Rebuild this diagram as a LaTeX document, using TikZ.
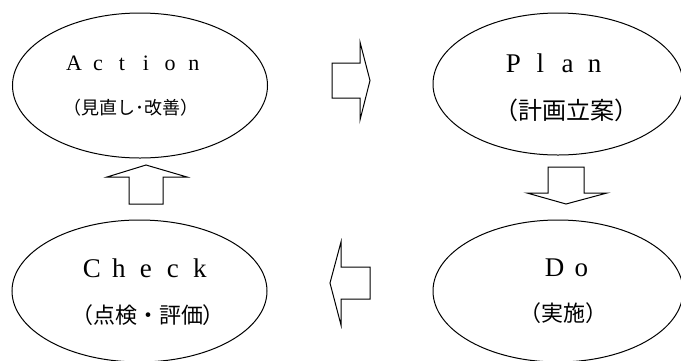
\documentclass[tikz,border=0pt]{standalone}
\usepackage{fontspec}
\setmainfont{Liberation Serif}
\newfontfamily\jpfont{Noto Sans CJK JP}
\usetikzlibrary{shapes.geometric}
\newlength\lspw
\newcommand\lsp[2]{\setlength\lspw{#1pt}\lspgo#2\relax}
\def\lspgo#1{\ifx#1\relax\else\makebox[\lspw]{#1}\expandafter\lspgo\fi}
\tikzset{
  phase/.style={draw, ellipse, line width=1pt, inner sep=0pt},
  blockarrow/.style={draw, line width=1pt, line join=miter, fill=white},
  word/.style={inner sep=0pt, anchor=center},
}
\begin{document}
\begin{tikzpicture}[x=1pt,y=-1pt]
\useasboundingbox (0,0) rectangle (681,360);
\clip (0,0) rectangle (681,360);
% ellipses
\node[phase, minimum width=255pt, minimum height=145pt] (action) at (140,85.5) {};
\node[phase, minimum width=250pt, minimum height=142pt] (plan) at (558,84) {};
\node[phase, minimum width=255pt, minimum height=142pt] (check) at (139.5,291) {};
\node[phase, minimum width=250pt, minimum height=142pt] (do) at (558,291) {};
% texts
\node[word, font=\fontsize{22}{22}\selectfont] (actT) at (134,63) {\lsp{24}{Action}};
\node[word, font=\jpfont\fontsize{18}{18}\selectfont] (actJ) at (131,108) {（見直し･改善）};
\node[word, font=\fontsize{27}{27}\selectfont] (planT) at (554,63) {\lsp{27}{Plan}};
\node[word, font=\jpfont\fontsize{24}{24}\selectfont] (planJ) at (566,110) {（計画立案）};
\node[word, font=\fontsize{27}{27}\selectfont] (checkT) at (146,268) {\lsp{27}{Check}};
\node[word, font=\jpfont\fontsize{22}{22}\selectfont] (checkJ) at (148,315) {（点検・評価）};
\node[word, font=\fontsize{27}{27}\selectfont] (doT) at (568,268) {\lsp{27}{Do}};
\node[word, font=\jpfont\fontsize{22}{22}\selectfont] (doJ) at (563,313) {（実施）};
% block arrows
\draw[blockarrow] (332,63) -- (360,63) -- (360,42) -- (370,80.5) -- (360,120) -- (360,98) -- (332,98) -- cycle;
\draw[blockarrow] (548,167) -- (584,167) -- (584,193) -- (607,193) -- (566,204) -- (527,193) -- (548,193) -- cycle;
\draw[blockarrow] (370,267) -- (341,267) -- (341,242) -- (330,283) -- (341,325) -- (341,299) -- (370,299) -- cycle;
\draw[blockarrow] (129,204) -- (129,177) -- (107,177) -- (146,165) -- (187,177) -- (163,177) -- (163,204) -- cycle;
\end{tikzpicture}
\end{document}
